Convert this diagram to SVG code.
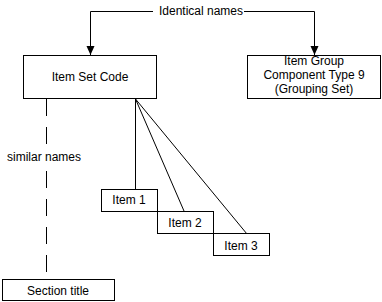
<svg xmlns="http://www.w3.org/2000/svg" width="382" height="302" viewBox="0 0 382 302">
<defs>
<marker id="arr" markerUnits="userSpaceOnUse" markerWidth="10" markerHeight="10" viewBox="0 0 10 10" refX="9" refY="5" orient="auto">
<path d="M0,1 L9,5 L0,9 Z" fill="#000"/>
</marker>
<style>
.box{fill:#fff;stroke:#000;stroke-width:1}
.ln{fill:none;stroke:#000;stroke-width:1}
.dash{fill:none;stroke:#000;stroke-width:1;stroke-dasharray:17 11}
text{font-family:"Liberation Sans",Arial,sans-serif;font-size:12px;fill:#000}
.c{text-anchor:middle}
</style>
</defs>
<rect width="382" height="302" fill="#fff"/>
<g id="connectors">
<path class="ln" d="M153,11.5 H90.5 V55" marker-end="url(#arr)"/>
<path class="ln" d="M244,11.5 H314.5 V55" marker-end="url(#arr)"/>
<path class="ln" d="M135.5,99 V189"/>
<path class="ln" d="M135.5,99 L184,211"/>
<path class="ln" d="M135.5,99 L247,234"/>
<path class="dash" d="M46.5,99 V146"/>
<path class="dash" d="M46.5,171 V272"/>
</g>
<g id="label-identical"><text x="201" y="15" class="c">Identical names</text></g>
<g id="label-similar"><text x="7" y="161">similar names</text></g>
<g id="item-set-code">
<rect class="box" x="23.5" y="55.5" width="133" height="43"/>
<text x="90" y="81" class="c">Item Set Code</text>
</g>
<g id="item-group">
<rect class="box" x="247.5" y="55.5" width="133" height="43"/>
<text x="314" y="65" class="c">Item Group</text>
<text x="314" y="79" class="c">Component Type 9</text>
<text x="314" y="93" class="c">(Grouping Set)</text>
</g>
<g id="item1">
<rect class="box" x="101.5" y="189.5" width="56" height="22"/>
<text x="129" y="204" class="c">Item 1</text>
</g>
<g id="item2">
<rect class="box" x="157.5" y="211.5" width="56" height="22"/>
<text x="185" y="227" class="c">Item 2</text>
</g>
<g id="item3">
<rect class="box" x="213.5" y="233.5" width="56" height="22"/>
<text x="241" y="250" class="c">Item 3</text>
</g>
<g id="section-title">
<rect class="box" x="2.5" y="279.5" width="112" height="21"/>
<text x="58" y="295" class="c">Section title</text>
</g>
</svg>
